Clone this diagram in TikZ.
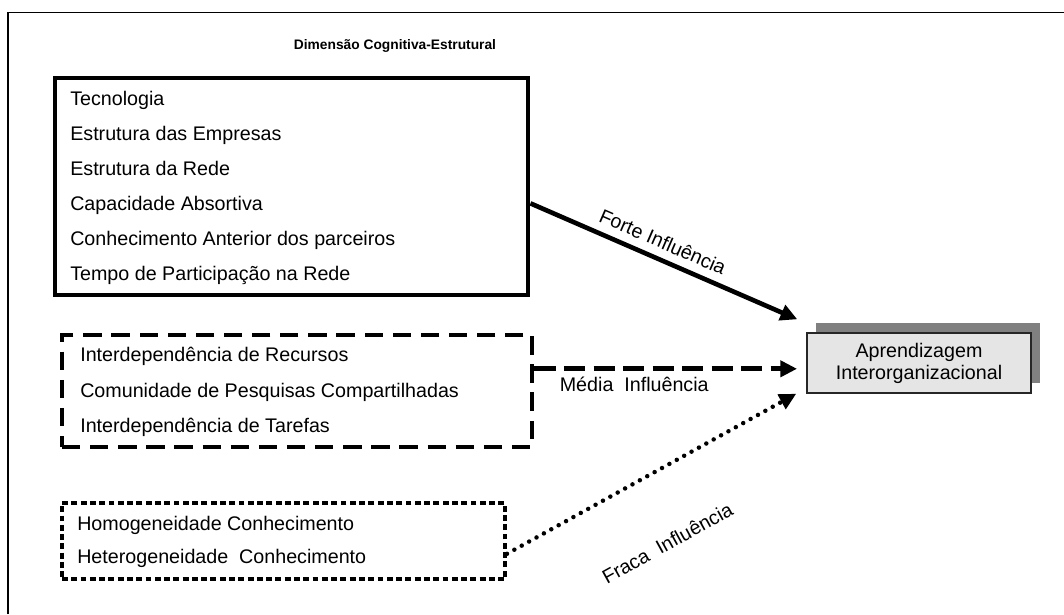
\documentclass[tikz,border=0pt]{standalone}
\usepackage{fontspec}
\setmainfont{Liberation Sans}
\usetikzlibrary{arrows.meta,calc,fit,shadows}

\begin{document}
\begin{tikzpicture}[x=0.025cm,y=-0.025cm,
  item/.style={anchor=west,inner sep=0pt,text height=1.5ex,text depth=.25ex,
    font=\fontsize{14}{16}\selectfont},
  grupo/.style={draw,rectangle,inner sep=0pt,line width=3.5pt},
  seta/.style={line width=3.3pt,-{Triangle[length=0.42cm,width=0.4cm]}},
  rotulo/.style={inner sep=0pt,text height=1.5ex,text depth=.25ex,
    font=\fontsize{14}{16}\selectfont}]
  \useasboundingbox (0,0) rectangle (1064,614);
  % moldura cortada
  \draw[line width=1.3pt] (8,614) -- (8,12.5) -- (1064,12.5);
  \node[font=\bfseries\fontsize{9.8}{11}\selectfont] (titulo) at (395,46)
    {Dimensão Cognitiva-Estrutural};

  % forte influencia
  \node[grupo,fit={(55,78) (528,295)}] (forte) {};
  \foreach \t [count=\i from 0] in {Tecnologia,Estrutura das Empresas,
      Estrutura da Rede,Capacidade Absortiva,
      Conhecimento Anterior dos parceiros,Tempo de Participação na Rede}
    \node[item] (f\i) at (70,101+35*\i) {\t};

  % media influencia
  \node[grupo,dash pattern=on 13pt off 7pt,fit={(62,335) (532,447)}] (media) {};
  \foreach \t [count=\i from 0] in {Interdependência de Recursos,
      Comunidade de Pesquisas Compartilhadas,Interdependência de Tarefas}
    \node[item] (m\i) at (80,357+35.5*\i) {\t};

  % fraca influencia
  \node[grupo,line width=2.8pt,dash pattern=on 4.2pt off 2.4pt,
    fit={(62,503) (505,579)}] (fraca) {};
  \node[item] (h0) at (77,526) {Homogeneidade Conhecimento};
  \node[item] (h1) at (77,559) {Heterogeneidade\ \ Conhecimento};

  % aprendizagem
  \node[draw=black!85,line width=1pt,fill=black!10,minimum width=5.6cm,
    minimum height=1.5cm,align=center,font=\fontsize{14}{15.6}\selectfont,
    drop shadow={shadow xshift=0.225cm,shadow yshift=0.25cm,
      fill=black!50,opacity=1}] (alvo) at (919,363)
    {Aprendizagem\\Interorganizacional};

  \draw[seta] ($(forte.north east)!0.576!(forte.south east)$)
    -- ([shift={(-9,-13)}]alvo.north west)
    node[rotulo,sloped,above=0.16cm,pos=0.47] (lforte) {Forte Influência};
  \draw[seta,dash pattern=on 15pt off 6pt]
    ($(media.north east)!0.31!(media.south east)$) coordinate (m)
    -- ([xshift=-0.23cm]m -| alvo.west)
    node[rotulo,below=0.24cm,pos=0.38] (lmedia) {Média\ \ Influência};
  \draw[seta,line width=3.2pt,line cap=round,dash pattern=on 0pt off 6pt]
    ($(fraca.north east)!0.66!(fraca.south east)$)
    -- ([xshift=-0.25cm]alvo.south west)
    node[rotulo,sloped,below=1.55cm,pos=0.44] (lfraca) {Fraca\ \ Influência};
\end{tikzpicture}
\end{document}
